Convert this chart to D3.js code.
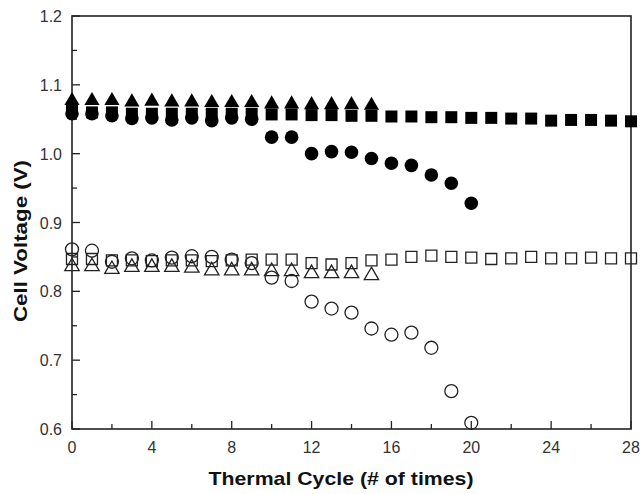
<!DOCTYPE html>
<html lang="en">
<head>
    <meta charset="UTF-8">
    <title>Cell Voltage vs Thermal Cycle</title>
    <script src="https://d3js.org/d3.v7.min.js"></script>
    <style>
        body { margin: 0; background: white; }
        svg { display: block; font-family: Arial, "Liberation Sans", sans-serif; }
        .tick-label { font-size: 16px; fill: #333; }
        .axis-title { font-size: 19px; font-weight: bold; fill: #111; }
    </style>
</head>
<body>
    <div id="chart"></div>
    <script>
        /*------------------- data --------------------*/
        const cycles28 = d3.range(0, 29);
        const cycles20 = d3.range(0, 21);
        const cycles15 = d3.range(0, 16);

        // filled symbols (upper group)
        const filledSquare = [1.062, 1.060, 1.060, 1.058, 1.058, 1.058, 1.058, 1.058, 1.058, 1.058,
            1.057, 1.057, 1.056, 1.056, 1.055, 1.055, 1.054, 1.054, 1.053, 1.053,
            1.052, 1.052, 1.051, 1.051, 1.048, 1.049, 1.049, 1.048, 1.047];
        const filledCircle = [1.058, 1.058, 1.055, 1.051, 1.052, 1.049, 1.052, 1.048, 1.052, 1.050,
            1.024, 1.024, 1.000, 1.003, 1.002, 0.993, 0.986, 0.983, 0.969, 0.957, 0.928];
        const filledTriangle = [1.077, 1.077, 1.077, 1.075, 1.076, 1.075, 1.075, 1.074, 1.074, 1.074,
            1.072, 1.072, 1.071, 1.071, 1.071, 1.070];

        // open symbols (lower group)
        const openSquare = [0.847, 0.847, 0.845, 0.845, 0.844, 0.845, 0.845, 0.844, 0.845, 0.846,
            0.846, 0.846, 0.841, 0.839, 0.841, 0.845, 0.846, 0.850, 0.852, 0.850,
            0.849, 0.847, 0.848, 0.850, 0.848, 0.848, 0.849, 0.848, 0.848];
        const openCircle = [0.861, 0.859, 0.843, 0.848, 0.845, 0.849, 0.851, 0.850, 0.846, 0.841,
            0.820, 0.815, 0.785, 0.775, 0.769, 0.746, 0.737, 0.740, 0.718, 0.655, 0.609];
        const openTriangle = [0.836, 0.836, 0.832, 0.835, 0.835, 0.835, 0.834, 0.830, 0.830, 0.830,
            0.829, 0.829, 0.826, 0.826, 0.826, 0.823];

        const xTicks = [0, 4, 8, 12, 16, 20, 24, 28];
        const xMinor = [2, 6, 10, 14, 18, 22, 26];
        const yTicks = [0.6, 0.7, 0.8, 0.9, 1.0, 1.1, 1.2];
        const yMinor = [0.65, 0.75, 0.85, 0.95, 1.05, 1.15];

        /*------------------- layout --------------------*/
        const width = 643, height = 494;
        const margin = { top: 16, right: 12, bottom: 65, left: 72 };

        const x = d3.scaleLinear().domain([0, 28]).range([margin.left, width - margin.right]);
        const y = d3.scaleLinear().domain([0.6, 1.2]).range([height - margin.bottom, margin.top]);

        const svg = d3.select("#chart").append("svg")
            .attr("width", width)
            .attr("height", height);

        const axisColor = "#222";

        // frame
        svg.append("rect")
            .attr("x", x(0)).attr("y", y(1.2))
            .attr("width", x(28) - x(0)).attr("height", y(0.6) - y(1.2))
            .attr("fill", "none").attr("stroke", axisColor).attr("stroke-width", 1.6);

        // ticks (inward)
        const tickG = svg.append("g").attr("stroke", axisColor).attr("stroke-width", 1.3);
        tickG.selectAll(".xt").data(xTicks.concat(xMinor)).enter().append("line")
            .attr("x1", d => x(d)).attr("x2", d => x(d))
            .attr("y1", y(0.6)).attr("y2", d => y(0.6) - (xTicks.includes(d) ? 8 : 5));
        tickG.selectAll(".yt").data(yTicks.concat(yMinor)).enter().append("line")
            .attr("y1", d => y(d)).attr("y2", d => y(d))
            .attr("x1", x(0)).attr("x2", d => x(0) + (yTicks.some(t => Math.abs(t - d) < 1e-9) ? 8 : 5));

        // tick labels
        svg.selectAll(".xl").data(xTicks).enter().append("text")
            .attr("class", "tick-label")
            .attr("x", d => x(d)).attr("y", 453)
            .attr("text-anchor", "middle")
            .text(d => d);
        svg.selectAll(".yl").data(yTicks).enter().append("text")
            .attr("class", "tick-label")
            .attr("x", 62).attr("y", d => y(d) + 6)
            .attr("text-anchor", "end")
            .text(d => d.toFixed(1));

        // axis titles
        svg.append("text").attr("class", "axis-title")
            .attr("x", 341).attr("y", 485)
            .attr("text-anchor", "middle")
            .attr("textLength", 265).attr("lengthAdjust", "spacingAndGlyphs")
            .text("Thermal Cycle (# of times)");
        svg.append("text").attr("class", "axis-title")
            .attr("transform", "translate(26.5,241) rotate(-90)")
            .attr("text-anchor", "middle")
            .attr("textLength", 162).attr("lengthAdjust", "spacingAndGlyphs")
            .text("Cell Voltage (V)");

        /*------------------- markers --------------------*/
        // drawing order: circles under squares, triangles on top
        const series = [
            { xs: cycles28, ys: openSquare, type: d3.symbolSquare, size: 121, filled: false },
            { xs: cycles15, ys: openTriangle, type: d3.symbolTriangle, size: 90, filled: false },
            { xs: cycles20, ys: openCircle, type: d3.symbolCircle, size: 133, filled: false },
            { xs: cycles20, ys: filledCircle, type: d3.symbolCircle, size: 145, filled: true },
            { xs: cycles28, ys: filledSquare, type: d3.symbolSquare, size: 144, filled: true },
            { xs: cycles15, ys: filledTriangle, type: d3.symbolTriangle, size: 100, filled: true }
        ];

        series.forEach(s => {
            const sym = d3.symbol().type(s.type).size(s.size);
            svg.append("g").selectAll("path")
                .data(s.ys.map((v, i) => [s.xs[i], v]))
                .enter().append("path")
                .attr("d", sym)
                .attr("transform", d => `translate(${x(d[0])},${y(d[1])})`)
                .attr("fill", s.filled ? "#000" : "none")
                .attr("stroke", s.filled ? "none" : "#222")
                .attr("stroke-width", 1.3);
        });
    </script>
</body>
</html>
